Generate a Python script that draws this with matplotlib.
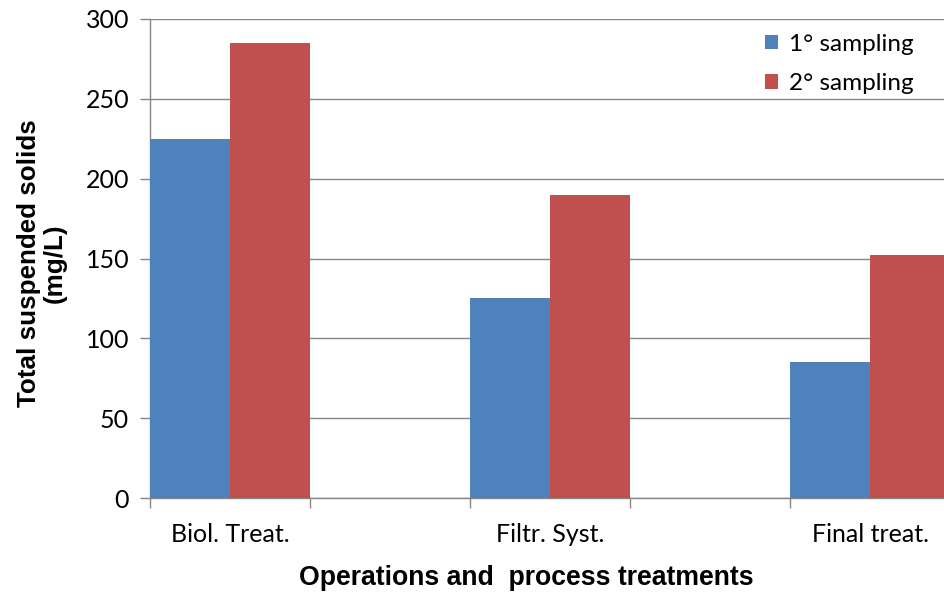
import matplotlib
matplotlib.use("Agg")
import matplotlib.pyplot as plt
import numpy as np

categories = ["Biol. Treat.", "Filtr. Syst.", "Final treat."]
sampling_1 = [225, 125, 85]
sampling_2 = [285, 190, 152]
series_names = ["1° sampling", "2° sampling"]
y_ticks = [0, 50, 100, 150, 200, 250, 300]

BLUE = "#4F81BD"
RED = "#C0504D"
GRID = "#868686"

plt.rcParams["font.family"] = ["Lato", "DejaVu Sans"]

fig = plt.figure(figsize=(9.44, 5.94), dpi=100)
ax = fig.add_axes([150 / 944, 1 - 498 / 594, 800 / 944, 479 / 594])

x = np.arange(len(categories))
w = 0.25
ax.bar(x - w / 2, sampling_1, width=w, color=BLUE, label=series_names[0], zorder=3)
ax.bar(x + w / 2, sampling_2, width=w, color=RED, label=series_names[1], zorder=3)

ax.set_xlim(-0.25, 2.25)
ax.set_ylim(0, 300)
ax.set_yticks(y_ticks)
ax.yaxis.grid(True, color=GRID, linewidth=1.0, zorder=0)
ax.set_axisbelow(True)

ax.set_xticks(x)
ax.set_xticklabels(categories)
ax.set_xticks(np.arange(-0.25, 2.3, 0.5), minor=True)
ax.tick_params(axis="x", which="major", length=0, pad=18, labelsize=18)
ax.tick_params(axis="x", which="minor", length=7, color=GRID, width=1)
ax.tick_params(axis="y", length=7, color=GRID, width=1, labelsize=18, pad=8)

for s in ["top", "right"]:
    ax.spines[s].set_visible(False)
for s in ["left", "bottom"]:
    ax.spines[s].set_color(GRID)
    ax.spines[s].set_linewidth(1)

ax.set_xlabel("Operations and  process treatments", fontsize=19.2,
              fontweight="bold", family=["Liberation Sans", "DejaVu Sans"], labelpad=14)
ax.xaxis.label.set_x(0.471)
ax.set_ylabel("Total suspended solids\n(mg/L)", fontsize=18.7, fontweight="bold",
              family=["Liberation Sans", "DejaVu Sans"], linespacing=1.08)
ax.yaxis.set_label_coords(-0.104, 0.4896)

leg = ax.legend(loc="upper right", bbox_to_anchor=(0.982, 1.015), frameon=False,
                fontsize=17.5, handlelength=0.55, handleheight=0.55, handletextpad=0.45,
                labelspacing=0.75)

fig.savefig("out.png", dpi=100)
